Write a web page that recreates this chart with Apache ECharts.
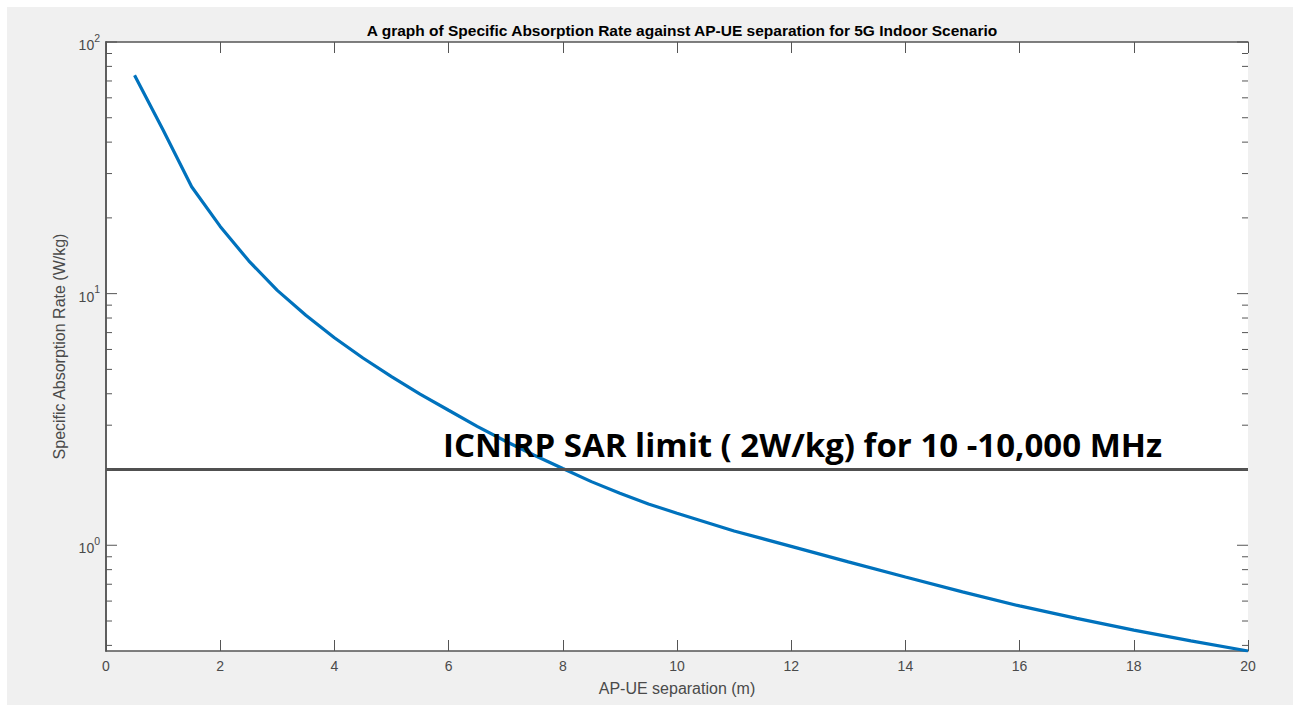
<!DOCTYPE html>
<html>
<head>
<meta charset="utf-8">
<script src="https://cdn.jsdelivr.net/npm/echarts@6/dist/echarts.min.js"></script>
<style>
html,body{margin:0;padding:0;background:#ffffff;}
#chart{width:1301px;height:705px;}
</style>
</head>
<body>
<div id="chart"></div>
<script>
// ---- data ----
const separation = [0.5, 1, 1.5, 2, 2.5, 3, 3.5, 4, 4.5, 5, 5.5, 6, 6.5, 7, 7.5, 8, 8.5, 9, 9.5, 10, 11, 12, 13, 14, 15, 16, 17, 18, 19, 20];
const sar = [73.8, 44.7, 26.6, 18.5, 13.5, 10.3, 8.2, 6.68, 5.55, 4.68, 3.99, 3.44, 2.97, 2.59, 2.28, 2.02, 1.79, 1.61, 1.46, 1.34, 1.14, 0.99, 0.859, 0.748, 0.653, 0.574, 0.512, 0.460, 0.417, 0.380];
const limitX = [0, 20];
const limitY = [2, 2];
const xTicks = [0, 2, 4, 6, 8, 10, 12, 14, 16, 18, 20];
const yMajorTicks = [1, 10, 100];
const yMinorTicks = [0.4, 0.5, 0.6, 0.7, 0.8, 0.9, 2, 3, 4, 5, 6, 7, 8, 9, 20, 30, 40, 50, 60, 70, 80, 90];
const titleText = 'A graph of Specific Absorption Rate against AP-UE separation for 5G Indoor Scenario';
const xName = 'AP-UE separation (m)';
const yName = 'Specific Absorption Rate (W/kg)';
const annotation = 'ICNIRP SAR limit ( 2W/kg) for 10 -10,000 MHz';

const X_MIN = xTicks[0], X_MAX = xTicks[xTicks.length - 1];
const Y_MIN = 0.38, Y_MAX = 100;
const AX = '#555555';
const LBL = '#4a4a4a';
const FONT = 'Liberation Sans, Arial, Helvetica, sans-serif';

const chart = echarts.init(document.getElementById('chart'), null, {renderer: 'svg'});

const tickData = yMinorTicks.map(v => [X_MIN, v, 0]).concat(yMajorTicks.map(v => [X_MIN, v, 1]));

function supLabel(v) {
  const e = Math.round(Math.log10(v));
  if (Math.abs(Math.log10(v) - e) > 1e-6) return '';
  return '{b|10}{s|' + e + '}';
}

const option = {
  backgroundColor: '#ffffff',
  animation: false,
  graphic: [
    {type: 'rect', z: -10, silent: true, shape: {x: 7, y: 7, width: 1286, height: 698}, style: {fill: '#f0f0f0'}},
    {type: 'text', z: 100, silent: true, left: 443, top: 428,
     style: {text: annotation, font: 'bold 33px "Open Sans", "Noto Sans", sans-serif', fill: '#000000'}}
  ],
  title: {
    text: titleText,
    left: 677, textAlign: 'center', top: 17,
    textStyle: {fontFamily: FONT, fontSize: 15.5, fontWeight: 'bold', color: '#000000'}
  },
  grid: {left: 106, right: 53, top: 42, bottom: 54, show: true, backgroundColor: '#ffffff', borderWidth: 0},
  xAxis: [
    {
      type: 'value', min: X_MIN, max: X_MAX, interval: 2, position: 'bottom',
      name: xName, nameLocation: 'middle', nameGap: 29,
      nameTextStyle: {fontFamily: FONT, fontSize: 16, color: LBL},
      axisLine: {show: true, lineStyle: {color: AX, width: 1.5}},
      axisTick: {show: true, inside: true, length: 11, lineStyle: {color: AX, width: 1}},
      axisLabel: {margin: 8, fontFamily: FONT, fontSize: 14, color: LBL},
      splitLine: {show: false}
    },
    {
      type: 'value', min: X_MIN, max: X_MAX, interval: 2, position: 'top',
      axisLine: {show: true, lineStyle: {color: AX, width: 1.5}},
      axisTick: {show: true, inside: true, length: 11, lineStyle: {color: AX, width: 1}},
      axisLabel: {show: false},
      splitLine: {show: false}
    }
  ],
  yAxis: [
    {
      type: 'log', logBase: 10, min: Y_MIN, max: Y_MAX, position: 'left',
      name: yName, nameLocation: 'middle', nameGap: 33,
      nameTextStyle: {fontFamily: FONT, fontSize: 16, color: LBL},
      axisLine: {show: true, lineStyle: {color: AX, width: 1.5}},
      axisTick: {show: false},
      axisLabel: {
        margin: 6, showMinLabel: false,
        formatter: v => supLabel(v),
        rich: {
          b: {fontFamily: FONT, fontSize: 14, color: LBL, verticalAlign: 'bottom', lineHeight: 20},
          s: {fontFamily: FONT, fontSize: 10.5, color: LBL, verticalAlign: 'top', lineHeight: 20}
        }
      },
      splitLine: {show: false}
    },
    {
      type: 'log', logBase: 10, min: Y_MIN, max: Y_MAX, position: 'right',
      axisLine: {show: true, lineStyle: {color: AX, width: 1.5}},
      axisTick: {show: false},
      axisLabel: {show: false},
      splitLine: {show: false}
    }
  ],
  series: [
    {
      type: 'line', name: 'SAR', xAxisIndex: 0, yAxisIndex: 0,
      data: separation.map((x, i) => [x, sar[i]]),
      showSymbol: false, symbol: 'none', z: 3,
      lineStyle: {color: '#0072BD', width: 3.2},
      clip: true
    },
    {
      type: 'line', name: 'limit', xAxisIndex: 0, yAxisIndex: 0,
      data: limitX.map((x, i) => [x, limitY[i]]),
      showSymbol: false, symbol: 'none', z: 4,
      lineStyle: {color: '#505050', width: 3}
    },
    {
      type: 'custom', name: 'yticks', xAxisIndex: 0, yAxisIndex: 0, silent: true, clip: false, z: 5,
      data: tickData,
      renderItem: function (params, api) {
        const v = api.value(1);
        const major = api.value(2);
        const pL = api.coord([X_MIN, v]);
        const pR = api.coord([X_MAX, v]);
        const len = major ? 11 : 6;
        return {
          type: 'group',
          children: [
            {type: 'line', shape: {x1: pL[0], y1: pL[1], x2: pL[0] + len, y2: pL[1]}, style: {stroke: AX, lineWidth: 1}},
            {type: 'line', shape: {x1: pR[0], y1: pR[1], x2: pR[0] - len, y2: pR[1]}, style: {stroke: AX, lineWidth: 1}}
          ]
        };
      }
    }
  ]
};
chart.setOption(option);
</script>
</body>
</html>
